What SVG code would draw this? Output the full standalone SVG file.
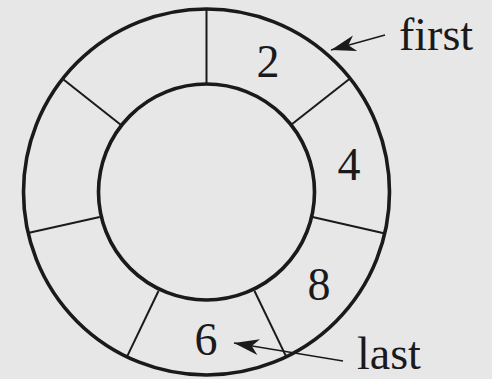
<svg xmlns="http://www.w3.org/2000/svg" width="492" height="379" viewBox="0 0 492 379">
  <style>
    .ring { fill: none; stroke: #1a1a1a; stroke-width: 3.6; }
    .div { stroke: #1a1a1a; stroke-width: 2; fill: none; }
    .lbl { font-family: "Liberation Serif", "Times New Roman", serif; font-size: 46px; fill: #1a1a1a; }
    .num { text-anchor: middle; }
    .arrow { stroke: #1a1a1a; stroke-width: 1.6; fill: none; marker-end: url(#head); }
  </style>
  <defs>
    <marker id="head" markerUnits="userSpaceOnUse" viewBox="-26 -10 28 20" refX="0" refY="0" markerWidth="28" markerHeight="20" orient="auto">
      <path d="M0,0 L-25,-8 L-18,0 L-25,8 Z" fill="#1a1a1a"/>
    </marker>
  </defs>
  <rect x="0" y="0" width="492" height="379" fill="#e7e7e7"/>
  <g id="ring">
    <circle class="ring" cx="206.5" cy="192" r="183"/>
    <circle class="ring" cx="206.5" cy="192" r="108"/>
    <line class="div" x1="206.5" y1="84" x2="206.5" y2="9"/>
    <line class="div" x1="291.5" y1="124.5" x2="350" y2="78.5"/>
    <line class="div" x1="312.5" y1="217" x2="385" y2="233.5"/>
    <line class="div" x1="254.5" y1="291" x2="286.3" y2="356.9"/>
    <line class="div" x1="158.5" y1="291" x2="126.9" y2="356.9"/>
    <line class="div" x1="99.8" y1="217" x2="28" y2="233"/>
    <line class="div" x1="121" y1="125" x2="62.5" y2="78.8"/>
  </g>
  <g id="cell-2"><text class="lbl num" x="268" y="77">2</text></g>
  <g id="cell-4"><text class="lbl num" x="349" y="180">4</text></g>
  <g id="cell-8"><text class="lbl num" x="319" y="300">8</text></g>
  <g id="cell-6"><text class="lbl num" x="206" y="355">6</text></g>
  <g id="first"><text class="lbl" x="399" y="50">first</text></g>
  <g id="last"><text class="lbl" x="357" y="369">last</text></g>
  <g id="connectors">
    <line class="arrow" x1="385" y1="35" x2="331" y2="50"/>
    <line class="arrow" x1="343" y1="361" x2="234" y2="343"/>
  </g>
</svg>
